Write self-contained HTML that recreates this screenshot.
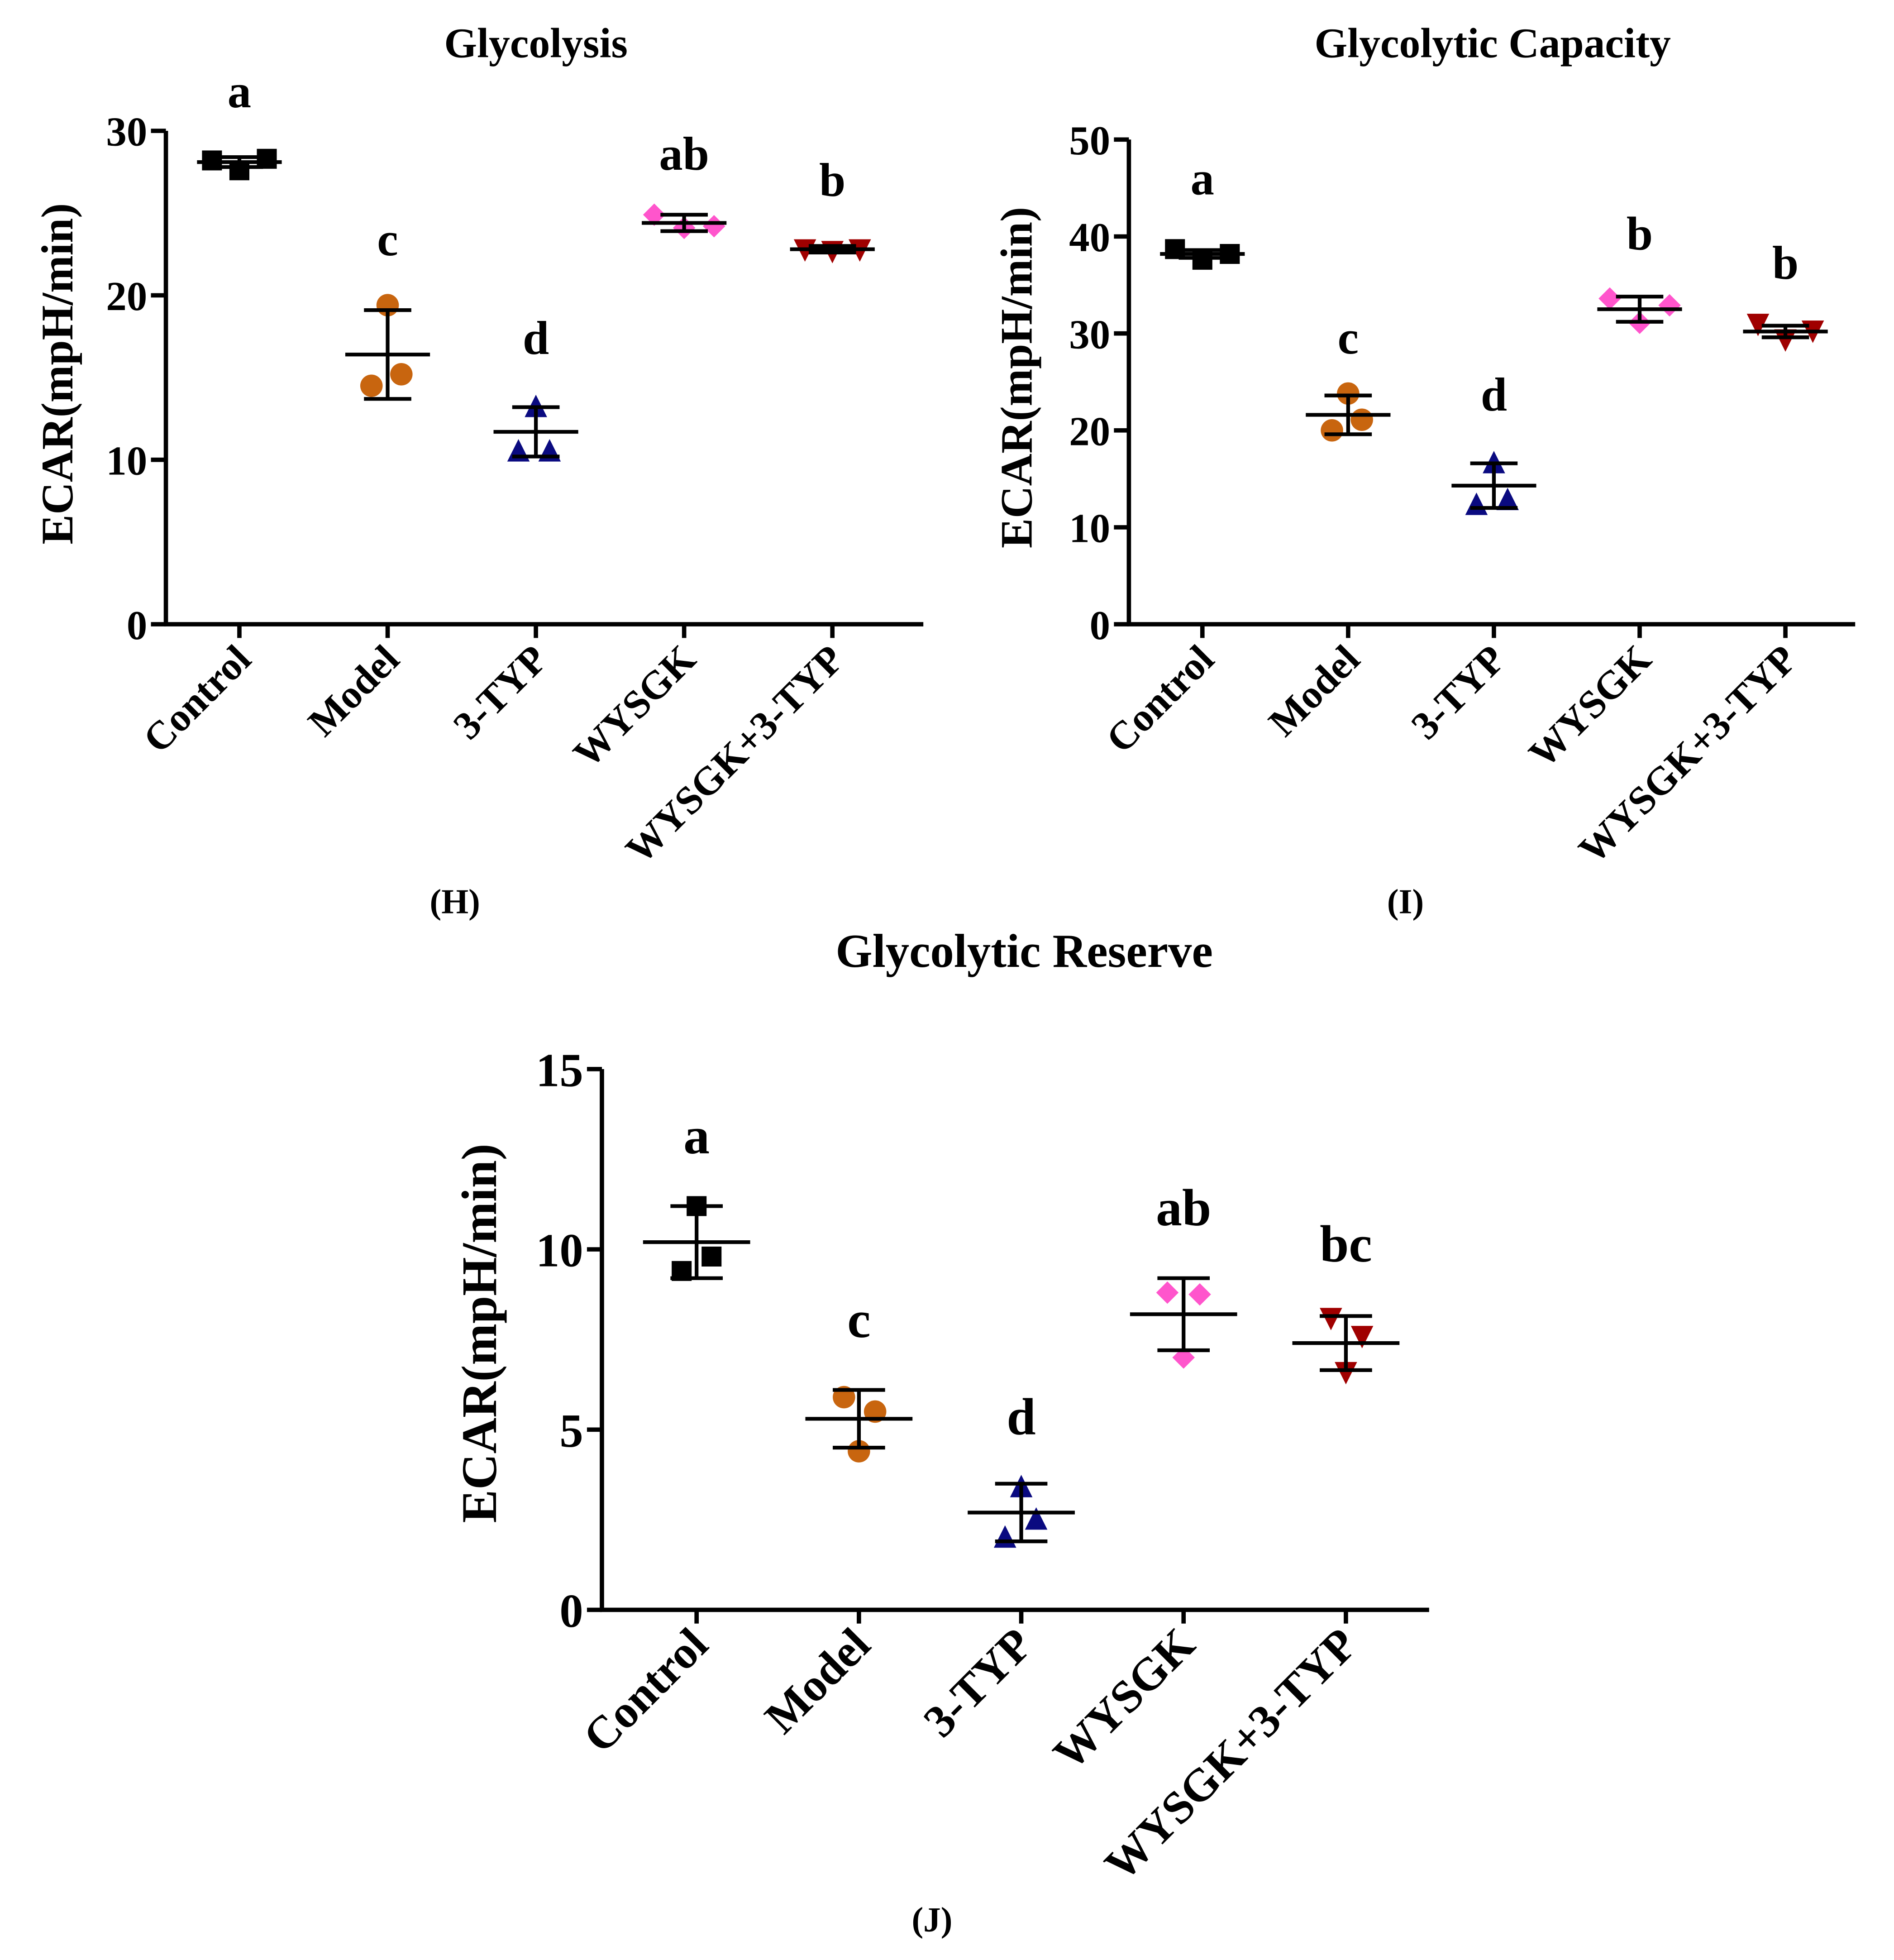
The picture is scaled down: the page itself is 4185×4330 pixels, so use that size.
<!DOCTYPE html>
<html><head><meta charset="utf-8"><style>
html,body{margin:0;padding:0;background:#fff;}
svg{display:block;}
text{font-family:"Liberation Serif",serif;font-weight:bold;fill:#000;}
</style></head><body>
<svg id="chart" xmlns="http://www.w3.org/2000/svg" width="4185" height="4330" viewBox="0 0 1520 1573">
<rect width="1520" height="1573" fill="#fff"/>
</svg>
<script>
const categories = ["Control","Model","3-TYP","WYSGK","WYSGK+3-TYP"];
const colors = ["#000000","#c8650f","#0a0a80","#ff55cc","#a00000"];
const shapes = ["square","circle","triangle","diamond","tri-down"];

// Panel H - Glycolysis
const hPoints = [[28.2,27.6,28.3],[19.4,14.5,15.2],[13.2,10.5,10.5],[24.9,24.1,24.2],[22.8,22.7,22.8]];
const hMeans = [28.1,16.4,11.7,24.4,22.8];
const hSD = [0.3,2.7,1.5,0.5,0.2];
const hLetters = ["a","c","d","ab","b"];
const hLetterY = [32.3,23.3,17.3,28.5,26.9];
const hTicks = [0,10,20,30];

// Panel I - Glycolytic Capacity
const iPoints = [[38.7,37.6,38.2],[23.8,20.0,21.1],[16.6,12.3,12.8],[33.6,31.1,32.9],[31.0,29.4,30.3]];
const iMeans = [38.2,21.6,14.3,32.5,30.2];
const iSD = [0.4,2.0,2.3,1.3,0.6];
const iLetters = ["a","c","d","b","b"];
const iLetterY = [45.8,29.4,23.5,40.1,37.1];
const iTicks = [0,10,20,30,40,50];

// Panel J - Glycolytic Reserve
const jPoints = [[11.2,9.4,9.8],[5.9,4.4,5.5],[3.4,2.0,2.5],[8.8,7.0,8.75],[8.1,6.6,7.6]];
const jMeans = [10.2,5.3,2.7,8.2,7.4];
const jSD = [1.0,0.8,0.8,1.0,0.75];
const jLetters = ["a","c","d","ab","bc"];
const jLetterY = [13.1,8.0,5.3,11.1,10.1];
const jTicks = [0,5,10,15];

const svg = document.getElementById('chart');
const NS = "http://www.w3.org/2000/svg";
function mk(tag, attrs, parent){
  const e = document.createElementNS(NS, tag);
  for (const k in attrs) e.setAttribute(k, attrs[k]);
  (parent||svg).appendChild(e);
  return e;
}
function marker(g, shape, cx, cy, col, r){
  let e;
  if (shape==="square") e = mk('rect',{x:cx-r,y:cy-r,width:2*r,height:2*r,fill:col},g);
  else if (shape==="circle") e = mk('circle',{cx:cx,cy:cy,r:r+1,fill:col},g);
  else if (shape==="triangle") e = mk('polygon',{points:`${cx},${cy-r-2} ${cx-r-1},${cy+r} ${cx+r+1},${cy+r}`,fill:col},g);
  else if (shape==="diamond") e = mk('polygon',{points:`${cx},${cy-r-1} ${cx+r+1},${cy} ${cx},${cy+r+1} ${cx-r-1},${cy}`,fill:col},g);
  else e = mk('polygon',{points:`${cx-r-1},${cy-r} ${cx+r+1},${cy-r} ${cx},${cy+r+2}`,fill:col},g);
  return e;
}
const offsetsHI = [[-22,0,22],[0,-13,11],[0,-14,11],[-24,0,24],[-22,0,22]];
const offsetsJ = [[0,-12,12],[-12,0,13],[0,-13,12],[-13,0,13],[-12,0,13]];

function panel(c){
  const g = mk('g',{});
  
  
  const ymax = c.ticks[c.ticks.length-1];
  const y = v => c.y0 - (c.y0 - c.yTop) * v / ymax;
  const xs = i => c.x0 + c.firstX + i * c.step;
  const t = mk('text',{x:c.titleX,y:c.titleY,'font-size':c.tfs,'text-anchor':'middle'},g);
  t.textContent = c.title;
  
  
  const ya = mk('line',{x1:c.x0,y1:c.yTop,x2:c.x0,y2:c.y0+1.5,stroke:'#000','stroke-width':3.5},g);
  
  
  const xa = mk('line',{x1:c.x0-1.5,y1:c.y0,x2:c.xEnd,y2:c.y0,stroke:'#000','stroke-width':3.5},g);
  
  
  c.ticks.forEach(v=>{
    mk('line',{x1:c.x0-12,y1:y(v),x2:c.x0,y2:y(v),stroke:'#000','stroke-width':3.5},g);
    const tl = mk('text',{x:c.x0-15,y:y(v)+c.tkfs*0.36,'font-size':c.tkfs,'text-anchor':'end'},g);
    tl.textContent = v;
    
    
  });
  const yl = mk('text',{x:0,y:0,'font-size':c.lfs,'text-anchor':'middle',transform:`translate(${c.ylX},${c.ylY}) rotate(-90)`},g);
  yl.textContent = "ECAR(mpH/min)";
  
  
  categories.forEach((cat,i)=>{
    const x = xs(i);
    mk('line',{x1:x,y1:c.y0,x2:x,y2:c.y0+11,stroke:'#000','stroke-width':3.5},g);
    const cl = mk('text',{x:0,y:0,'font-size':c.fs,'text-anchor':'end',transform:`translate(${x+11},${c.y0+30}) rotate(-45)`},g);
    cl.textContent = cat;
    
    
    c.points[i].forEach((v,k)=>{
      const m = marker(g, shapes[i], x+c.offsets[i][k], y(v), colors[i], c.r);
      
      
    });
    const mn = c.means[i], sd = c.sd[i];
    const ml = mk('line',{x1:x-c.mw,y1:y(mn),x2:x+c.mw,y2:y(mn),stroke:'#000','stroke-width':3},g);
    
    
    mk('line',{x1:x,y1:y(mn+sd),x2:x,y2:y(mn-sd),stroke:'#000','stroke-width':3},g);
    mk('line',{x1:x-c.cw,y1:y(mn+sd),x2:x+c.cw,y2:y(mn+sd),stroke:'#000','stroke-width':3},g);
    mk('line',{x1:x-c.cw,y1:y(mn-sd),x2:x+c.cw,y2:y(mn-sd),stroke:'#000','stroke-width':3},g);
    const lt = mk('text',{x:x,y:y(c.letterY[i])+c.letfs*0.3,'font-size':c.letfs,'text-anchor':'middle'},g);
    lt.textContent = c.letters[i];
    
    
  });
  const pl = mk('text',{x:c.plX,y:c.plY,'font-size':28,'text-anchor':'middle'},g);
  pl.textContent = c.panelLabel;
  
  
}

panel({name:'panel-h-glycolysis',title:'Glycolysis',titleX:430,titleY:46,tfs:34,x0:133,y0:501,yTop:105,xEnd:741,firstX:59,step:119,
  ticks:hTicks,points:hPoints,means:hMeans,sd:hSD,letters:hLetters,letterY:hLetterY,fs:32,tkfs:33,letfs:38,lfs:36,ylX:58,ylY:300,
  panelLabel:'(H)',plX:365,plY:733,offsets:offsetsHI,r:8,mw:34,cw:19});
panel({name:'panel-i-glycolytic-capacity',title:'Glycolytic Capacity',titleX:1198,titleY:46,tfs:34,x0:906,y0:501,yTop:112,xEnd:1489,firstX:59,step:117,
  ticks:iTicks,points:iPoints,means:iMeans,sd:iSD,letters:iLetters,letterY:iLetterY,fs:32,tkfs:33,letfs:38,lfs:36,ylX:828,ylY:303,
  panelLabel:'(I)',plX:1128,plY:733,offsets:offsetsHI,r:8,mw:34,cw:19});
panel({name:'panel-j-glycolytic-reserve',title:'Glycolytic Reserve',titleX:822,titleY:776,tfs:38,x0:483,y0:1292,yTop:858,xEnd:1147,firstX:76,step:130.3,
  ticks:jTicks,points:jPoints,means:jMeans,sd:jSD,letters:jLetters,letterY:jLetterY,fs:37,tkfs:38,letfs:42,lfs:40,ylX:398,ylY:1070,
  panelLabel:'(J)',plX:748,plY:1550,offsets:offsetsJ,r:8,mw:43,cw:21});
</script>
</body></html>
